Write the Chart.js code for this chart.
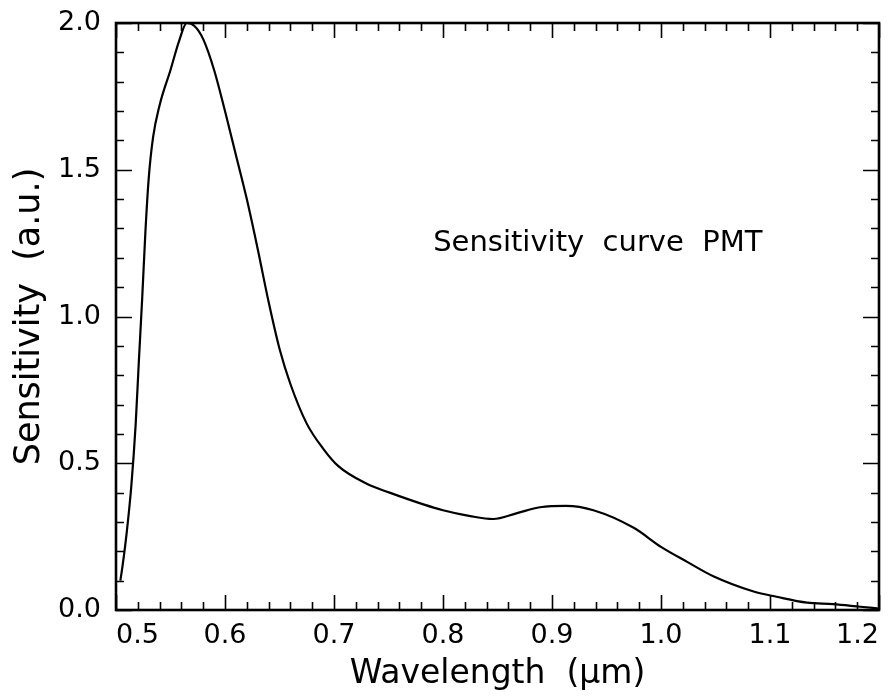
<!DOCTYPE html>
<html>
<head>
<meta charset="utf-8">
<script src="https://cdn.jsdelivr.net/npm/chart.js@4/dist/chart.umd.min.js"></script>
<style>
  html, body { margin: 0; padding: 0; background: #fff; }
  #wrap { width: 894px; height: 697px; }
</style>
</head>
<body>
<div id="wrap"><canvas id="c" width="894" height="697"></canvas></div>
<script>
// ---- data ----
const wavelength = [0.504, 0.506, 0.510, 0.514, 0.518, 0.521, 0.524, 0.527, 0.530, 0.534,
  0.540, 0.550, 0.558, 0.565, 0.572, 0.580, 0.590, 0.600, 0.610, 0.620,
  0.630, 0.640, 0.650, 0.660, 0.675, 0.690, 0.704, 0.730,
  0.751, 0.782, 0.800, 0.825, 0.846, 0.868, 0.889, 0.913, 0.938, 0.975,
  1.000, 1.024, 1.048, 1.085, 1.106, 1.134, 1.158, 1.183, 1.200];
const sensitivity = [0.10, 0.15, 0.27, 0.42, 0.63, 0.85, 1.06, 1.29, 1.47, 1.61,
  1.72, 1.84, 1.94, 2.00, 1.99, 1.945, 1.84, 1.70, 1.55, 1.40,
  1.23, 1.05, 0.89, 0.77, 0.635, 0.55, 0.49, 0.43,
  0.40, 0.36, 0.34, 0.32, 0.31, 0.33, 0.35, 0.355, 0.34, 0.28,
  0.215, 0.164, 0.115, 0.063, 0.045, 0.025, 0.02, 0.011, 0.005];
const xTickValues = [0.5, 0.6, 0.7, 0.8, 0.9, 1.0, 1.1, 1.2];
const xTickLabels = ['0.5', '0.6', '0.7', '0.8', '0.9', '1.0', '1.1', '1.2'];
const yTickValues = [0.0, 0.5, 1.0, 1.5, 2.0];
const yTickLabels = ['0.0', '0.5', '1.0', '1.5', '2.0'];
const xTitle = 'Wavelength  (\u03bcm)';
const yTitle = 'Sensitivity  (a.u.)';
const noteText = 'Sensitivity  curve  PMT';
const notePos = [0.791, 1.250];

const FONT = "'DejaVu Sans', sans-serif";

const frameAndTicks = {
  id: 'frameAndTicks',
  afterDraw(chart) {
    const ctx = chart.ctx, a = chart.chartArea;
    const xs = chart.scales.x, ys = chart.scales.y;
    ctx.save();
    ctx.strokeStyle = '#000';
    ctx.lineWidth = 1.6;
    ctx.beginPath();
    for (let i = 0; i <= 35; i++) {
      const v = xs.min + i * 0.02;
      const px = Math.round(xs.getPixelForValue(v)) + 0.5;
      const len = (i % 5 === 0) ? 15 : 8;
      ctx.moveTo(px, a.bottom); ctx.lineTo(px, a.bottom - len);
      ctx.moveTo(px, a.top); ctx.lineTo(px, a.top + len);
    }
    for (let i = 0; i <= 20; i++) {
      const v = ys.min + i * 0.1;
      const py = Math.round(ys.getPixelForValue(v)) + 0.5;
      const len = (i % 5 === 0) ? 16 : 8;
      ctx.moveTo(a.left, py); ctx.lineTo(a.left + len, py);
      ctx.moveTo(a.right, py); ctx.lineTo(a.right - len, py);
    }
    ctx.stroke();
    ctx.lineWidth = 2.6;
    ctx.strokeRect(a.left, a.top, a.right - a.left, a.bottom - a.top);
    ctx.fillStyle = '#000';
    ctx.font = '29px ' + FONT;
    ctx.textAlign = 'left';
    ctx.textBaseline = 'middle';
    ctx.fillText(noteText, xs.getPixelForValue(notePos[0]), ys.getPixelForValue(notePos[1]));
    ctx.restore();
  }
};

new Chart(document.getElementById('c'), {
  type: 'scatter',
  data: {
    datasets: [{
      data: wavelength.map((w, i) => ({ x: w, y: sensitivity[i] })),
      showLine: true,
      borderColor: '#000',
      borderWidth: 2.2,
      pointRadius: 0,
      fill: false,
      cubicInterpolationMode: 'monotone'
    }]
  },
  options: {
    responsive: false,
    animation: false,
    layout: { padding: { top: 23, right: 15, left: 0, bottom: 0 } },
    plugins: { legend: { display: false }, tooltip: { enabled: false } },
    scales: {
      x: {
        type: 'linear',
        min: 0.5, max: 1.2,
        afterBuildTicks(s) { s.ticks = xTickValues.map(v => ({ value: v })); },
        afterFit(s) { s.height = 87; s.paddingLeft = 0; s.paddingRight = 0; },
        grid: { display: false, drawTicks: false },
        border: { display: false },
        ticks: {
          color: '#000',
          font: { family: FONT, size: 27 },
          padding: 10,
          align: 'inner',
          maxRotation: 0,
          callback: (v, i) => xTickLabels[i]
        },
        title: {
          display: true,
          text: xTitle,
          color: '#000',
          font: { family: FONT, size: 33 },
          padding: { top: 0, bottom: 3 }
        }
      },
      y: {
        type: 'linear',
        min: 0, max: 2.0,
        afterBuildTicks(s) { s.ticks = yTickValues.map(v => ({ value: v })); },
        afterFit(s) { s.width = 116; s.paddingTop = 0; s.paddingBottom = 0; },
        grid: { display: false, drawTicks: false },
        border: { display: false },
        ticks: {
          color: '#000',
          font: { family: FONT, size: 27 },
          padding: 15,
          callback: (v, i) => yTickLabels[i]
        },
        title: {
          display: true,
          text: yTitle,
          color: '#000',
          font: { family: FONT, size: 35 },
          padding: { top: 9, bottom: 0 }
        }
      }
    }
  },
  plugins: [frameAndTicks]
});
</script>
</body>
</html>
